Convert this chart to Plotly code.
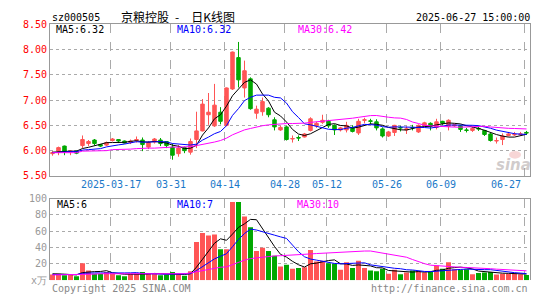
import plotly.graph_objects as go
import pandas as pd

# ---------------- data ----------------
dates = [
    "2025-03-03", "2025-03-04", "2025-03-05", "2025-03-06", "2025-03-07",
    "2025-03-10", "2025-03-11", "2025-03-12", "2025-03-13", "2025-03-14",
    "2025-03-17", "2025-03-18", "2025-03-19", "2025-03-20", "2025-03-21",
    "2025-03-24", "2025-03-25", "2025-03-26", "2025-03-27", "2025-03-28",
    "2025-03-31", "2025-04-01", "2025-04-02", "2025-04-03", "2025-04-07",
    "2025-04-08", "2025-04-09", "2025-04-10", "2025-04-11", "2025-04-14",
    "2025-04-15", "2025-04-16", "2025-04-17", "2025-04-18", "2025-04-21",
    "2025-04-22", "2025-04-23", "2025-04-24", "2025-04-25", "2025-04-28",
    "2025-04-29", "2025-04-30", "2025-05-06", "2025-05-07", "2025-05-08",
    "2025-05-09", "2025-05-12", "2025-05-13", "2025-05-14", "2025-05-15",
    "2025-05-16", "2025-05-19", "2025-05-20", "2025-05-21", "2025-05-22",
    "2025-05-23", "2025-05-26", "2025-05-27", "2025-05-28", "2025-05-29",
    "2025-05-30", "2025-06-03", "2025-06-04", "2025-06-05", "2025-06-06",
    "2025-06-09", "2025-06-10", "2025-06-11", "2025-06-12", "2025-06-13",
    "2025-06-16", "2025-06-17", "2025-06-18", "2025-06-19", "2025-06-20",
    "2025-06-23", "2025-06-24", "2025-06-25", "2025-06-26", "2025-06-27",
]

opens = [5.94, 5.99, 6.09, 5.98, 5.99, 6.10, 6.14, 6.21, 6.12, 6.11,
         6.20, 6.22, 6.19, 6.16, 6.20, 6.21, 6.07, 6.17, 6.21, 6.18,
         6.07, 5.94, 6.06, 5.97, 6.22, 6.39, 6.71, 6.49, 6.76, 6.50,
         7.22, 7.84, 7.24, 7.42, 6.74, 6.77, 6.84, 6.61, 6.41, 6.47,
         6.23, 6.26, 6.27, 6.40, 6.49, 6.56, 6.58, 6.50, 6.41, 6.41,
         6.46, 6.35, 6.60, 6.59, 6.57, 6.43, 6.29, 6.36, 6.46, 6.41,
         6.46, 6.37, 6.50, 6.54, 6.46, 6.58, 6.48, 6.49, 6.49, 6.41,
         6.40, 6.44, 6.40, 6.33, 6.19, 6.22, 6.30, 6.31, 6.32, 6.36]
highs = [5.99, 6.08, 6.10, 6.00, 6.00, 6.30, 6.21, 6.23, 6.13, 6.18,
         6.25, 6.23, 6.20, 6.22, 6.28, 6.26, 6.19, 6.25, 6.25, 6.19,
         6.14, 6.11, 6.08, 6.24, 6.77, 7.02, 7.14, 7.32, 6.86, 7.25,
         7.96, 8.15, 7.78, 7.45, 6.89, 7.05, 6.86, 6.66, 6.49, 6.49,
         6.30, 6.30, 6.35, 6.66, 6.57, 6.71, 6.61, 6.52, 6.47, 6.57,
         6.50, 6.63, 6.65, 6.63, 6.62, 6.46, 6.39, 6.51, 6.49, 6.48,
         6.51, 6.52, 6.57, 6.56, 6.63, 6.59, 6.62, 6.53, 6.51, 6.45,
         6.47, 6.47, 6.41, 6.35, 6.26, 6.34, 6.37, 6.37, 6.37, 6.39]
lows = [5.90, 5.91, 5.91, 5.91, 5.93, 6.05, 6.09, 6.10, 6.07, 6.09,
        6.18, 6.15, 6.14, 6.13, 6.16, 5.99, 6.03, 6.14, 6.09, 6.05,
        5.82, 5.88, 5.95, 5.92, 6.05, 6.38, 6.51, 6.47, 6.52, 6.48,
        7.20, 7.25, 7.05, 6.81, 6.63, 6.69, 6.66, 6.40, 6.39, 6.20,
        6.16, 6.19, 6.26, 6.38, 6.45, 6.53, 6.45, 6.31, 6.38, 6.36,
        6.36, 6.31, 6.54, 6.52, 6.40, 6.26, 6.27, 6.29, 6.38, 6.33,
        6.40, 6.35, 6.48, 6.40, 6.42, 6.51, 6.40, 6.47, 6.37, 6.36,
        6.37, 6.39, 6.29, 6.18, 6.14, 6.11, 6.28, 6.29, 6.30, 6.31]
closes = [5.96, 6.06, 5.99, 5.99, 5.95, 6.22, 6.18, 6.14, 6.09, 6.16,
          6.23, 6.19, 6.15, 6.19, 6.22, 6.12, 6.16, 6.23, 6.14, 6.10,
          5.91, 6.05, 6.00, 6.18, 6.39, 6.92, 6.76, 6.90, 6.58, 7.24,
          7.95, 7.40, 7.58, 6.83, 6.82, 6.97, 6.71, 6.47, 6.46, 6.22,
          6.24, 6.25, 6.33, 6.63, 6.54, 6.60, 6.49, 6.41, 6.45, 6.50,
          6.38, 6.58, 6.61, 6.58, 6.45, 6.29, 6.37, 6.50, 6.45, 6.43,
          6.45, 6.50, 6.55, 6.48, 6.57, 6.54, 6.60, 6.51, 6.42, 6.40,
          6.44, 6.43, 6.32, 6.20, 6.20, 6.29, 6.33, 6.32, 6.33, 6.35]
volumes = [7, 8, 6, 7, 5, 21, 12, 8, 8, 10,
           8, 6, 5, 8, 8, 10, 8, 8, 6, 7,
           10, 7, 5.5, 11, 47, 58, 55, 56, 38, 38,
           96, 96, 78, 65, 36, 40, 36, 30, 17, 19,
           14, 15, 16, 37, 23, 24, 21, 20, 13, 22,
           15, 24, 15, 12, 11, 14, 8, 13, 7.5, 9.5,
           12, 11.5, 9.5, 10, 18, 14, 22, 13.5, 13, 13.5,
           7.5, 9, 9.5, 10, 7, 8, 8, 8, 7.5, 6.5]

# moving-average values before a full window exists
ma5_lead = [5.97, 5.98, 5.99, 5.99]
ma10_lead = [5.96, 5.97, 5.98, 5.98, 5.98, 6.01, 6.02, 6.03, 6.04]
ma30_lead = [5.96, 5.96, 5.96, 5.96, 5.96, 5.99, 5.99, 6.00, 6.00, 6.00,
             6.02, 6.02, 6.03, 6.03, 6.04, 6.05, 6.05, 6.05, 6.06, 6.06,
             6.07, 6.07, 6.07, 6.08, 6.10, 6.12, 6.14, 6.17, 6.20]
vma5_lead = [8.0, 8.0, 7.5, 7.0]
vma10_lead = [7.0, 7.0, 7.0, 7.0, 7.0, 8.5, 9.0, 9.0, 9.0]
vma30_lead = [6.6, 6.6, 6.6, 6.6, 6.6, 7.5, 7.5, 7.5, 8.0, 8.0,
              8.0, 8.0, 8.0, 8.0, 8.0, 8.0, 8.0, 8.0, 8.0, 8.0,
              8.0, 8.0, 8.0, 9.0, 10.5, 12.0, 13.5, 15.0, 16.0]

tick_dates = ["2025-03-17", "2025-03-31", "2025-04-14", "2025-04-28",
              "2025-05-12", "2025-05-26", "2025-06-09", "2025-06-27"]
tick_labels = ["2025-03-17", "03-31", "04-14", "04-28", "05-12", "05-26", "06-09", "06-27"]
price_ticks = [5.5, 6.0, 6.5, 7.0, 7.5, 8.0, 8.5]
vol_ticks = [0, 20, 40, 60, 80, 100]
vol_tick_text = ["x万", "20", "40", "60", "80", "100"]

title_code = "sz000505"
title_name = "京粮控股\u2002-\u2002\u2002日K线图"
title_time = "2025-06-27 15:00:00"
ma_price_text = ["MA5:6.32", "MA10:6.32", "MA30:6.42"]
ma_vol_text = ["MA5:6", "MA10:7", "MA30:10"]

# ---------------- helpers ----------------
W, H = 545, 300
def px(x):
    return x / W
def py(y):
    return (H - y) / H

def moving(values, window, lead):
    s = pd.Series(values, dtype=float).rolling(window).mean().tolist()
    return list(lead) + s[window - 1:]

RED = "#ff5555"
GREEN = "#00a800"
MA_COLORS = ["#000000", "#0000ff", "#ff00ff"]
MONO = "DejaVu Sans Mono"

idx = list(range(len(dates)))
tick_pos = [dates.index(d) - 0.33 for d in tick_dates]
xr = [-0.4167, len(dates) - 0.4167]

fig = go.Figure()
fig.add_trace(go.Candlestick(
    x=idx, open=opens, high=highs, low=lows, close=closes,
    increasing=dict(line=dict(color=RED, width=1), fillcolor=RED),
    decreasing=dict(line=dict(color=GREEN, width=1), fillcolor=GREEN),
    whiskerwidth=0, xaxis="x", yaxis="y", hoverinfo="skip", showlegend=False))

for w, lead, c in zip([5, 10, 30], [ma5_lead, ma10_lead, ma30_lead], MA_COLORS):
    fig.add_trace(go.Scatter(x=idx, y=moving(closes, w, lead), mode="lines",
                             line=dict(color=c, width=1), xaxis="x", yaxis="y",
                             hoverinfo="skip", showlegend=False))

bar_colors = [RED if c > o else GREEN for o, c in zip(opens, closes)]
fig.add_trace(go.Bar(x=idx, y=volumes, marker=dict(color=bar_colors, line=dict(width=0)),
                     xaxis="x2", yaxis="y2", hoverinfo="skip", showlegend=False))
for w, lead, c in zip([5, 10, 30], [vma5_lead, vma10_lead, vma30_lead], MA_COLORS):
    fig.add_trace(go.Scatter(x=idx, y=moving(volumes, w, lead), mode="lines",
                             line=dict(color=c, width=1), xaxis="x2", yaxis="y2",
                             hoverinfo="skip", showlegend=False))

xdom = [px(50), px(530)]
grid = "#aaaaaa"
border = "#999999"
fig.update_layout(
    width=W, height=H, autosize=False,
    margin=dict(l=0, r=0, t=0, b=0),
    paper_bgcolor="white", plot_bgcolor="white",
    bargap=0.17, boxgap=0.17,
    xaxis=dict(domain=xdom, range=xr, anchor="y", tickvals=tick_pos, showticklabels=False,
               ticks="", showgrid=True, gridcolor=grid, griddash="dash", gridwidth=1,
               showline=True, mirror=True, linecolor=border, linewidth=1,
               zeroline=False, rangeslider=dict(visible=False), fixedrange=True),
    yaxis=dict(domain=[py(177), py(19)], range=[5.5, 8.5], anchor="x",
               tickvals=price_ticks, ticktext=["%.2f" % v for v in price_ticks],
               tickfont=dict(family=MONO, size=10, color="#ff0000"), ticks="",
               showgrid=True, gridcolor=grid, griddash="dot", gridwidth=1,
               showline=True, mirror=True, linecolor=border, linewidth=1, zeroline=False),
    xaxis2=dict(domain=xdom, range=xr, anchor="y2", side="top", tickvals=tick_pos,
                showticklabels=False, ticks="", showgrid=True, gridcolor=grid,
                griddash="dash", showline=True, mirror=False, linecolor=border,
                zeroline=False),
    yaxis2=dict(domain=[py(285.7), py(200.7)], range=[0, 100], anchor="x2",
                tickvals=vol_ticks, ticktext=vol_tick_text,
                tickfont=dict(family=MONO, size=10, color="#999999"), ticks="",
                showgrid=True, gridcolor=grid, griddash="dot",
                showline=True, mirror=True, linecolor=border, zeroline=False),
)

ann = []
def text(x, y, s, color="#000000", size=10, anchor="left", family=MONO, xref="paper"):
    ann.append(dict(x=x, y=y, xref=xref, yref="paper", text=s, showarrow=False,
                    xanchor=anchor, yanchor="middle",
                    font=dict(family=family, size=size, color=color)))

# header
text(px(50), py(12), title_code)
text(px(119), py(11), title_name, size=12, family="Noto Sans CJK SC")
text(px(532), py(12), title_time, anchor="right")
# MA legends
for s, c, x0 in zip(ma_price_text, MA_COLORS, [54, 175, 296]):
    text(px(x0), py(24.5), s, color=c)
for s, c, x0 in zip(ma_vol_text, MA_COLORS, [55, 175, 295]):
    text(px(x0), py(207), s, color=c)
# date labels
for i, (pos, lab) in enumerate(zip(tick_pos, tick_labels)):
    if i == len(tick_labels) - 1:
        text(px(523), py(186), lab, color="#1a78c8", anchor="right", size=10)
    else:
        text(pos, py(186), lab, color="#1a78c8", anchor="center", size=10, xref="x")
# footer
text(px(50), py(294), "Copyright 2025 SINA.COM", color="#888888")
text(px(530), py(294), "http://finance.sina.com.cn", color="#888888", anchor="right")
# watermark
ann.append(dict(x=px(513), y=py(166), xref="paper", yref="paper", text="<b><i>sina</i></b>",
                showarrow=False, xanchor="center", yanchor="middle",
                font=dict(family="DejaVu Sans", size=15, color="rgba(170,160,160,0.55)")))
fig.update_layout(annotations=ann)
fig.add_shape(type="circle", xref="paper", yref="paper",
              x0=px(509), x1=px(521), y0=py(159), y1=py(151),
              fillcolor="rgba(230,120,120,0.3)", line=dict(width=0), layer="above")

fig.write_html("out.html", config={"displayModeBar": False, "staticPlot": True})
